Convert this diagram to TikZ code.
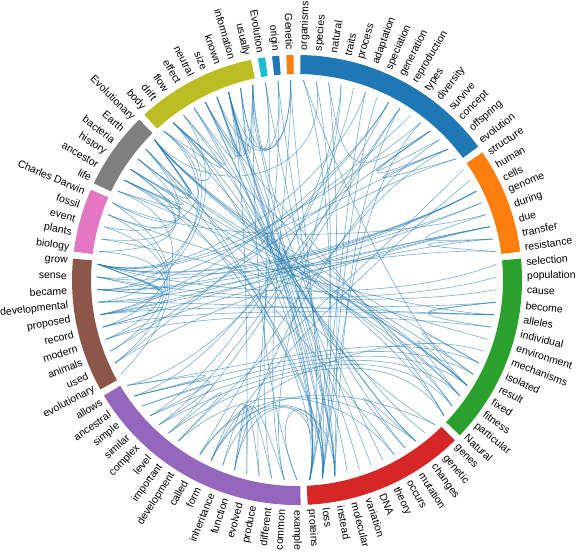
\documentclass[tikz,border=0pt]{standalone}
\usepackage{fontspec}
\setmainfont{Liberation Sans}
\usetikzlibrary{calc}
\definecolor{grBlue}  {HTML}{1F77B4}
\definecolor{grOrange}{HTML}{FF7F0E}
\definecolor{grGreen} {HTML}{2CA02C}
\definecolor{grRed}   {HTML}{D62728}
\definecolor{grPurple}{HTML}{9467BD}
\definecolor{grBrown} {HTML}{8C564B}
\definecolor{grPink}  {HTML}{E377C2}
\definecolor{grGrey}  {HTML}{7F7F7F}
\definecolor{grOlive} {HTML}{BCBD22}
\definecolor{grCyan}  {HTML}{17BECF}
\definecolor{linkBlue}{HTML}{1F77B4}

\begin{document}
\begin{tikzpicture}[
    word/.style={font=\fontsize{10.5}{12}\selectfont,inner sep=0pt,text=black},
    link/.style={draw=linkBlue,draw opacity=0.6,line width=0.6pt}
  ]
  \useasboundingbox (-297pt,-272pt) rectangle (280pt,280pt);
  \pgfmathsetmacro\stp{360/99}
  % Group arcs and their hubs
  \foreach \g/\c/\first/\last in {blue/grBlue/0/14, orange/grOrange/15/22,
      green/grGreen/23/36, red/grRed/37/48, purple/grPurple/49/65,
      brown/grBrown/66/75, pink/grPink/76/80, grey/grGrey/81/86,
      olive/grOlive/87/95, cyan/grCyan/96/96, blueB/grBlue/97/97,
      orangeB/grOrange/98/98} {
    \pgfmathsetmacro\sa{90-(\first*\stp+0.9)}
    \pgfmathsetmacro\ea{90-((\last+1)*\stp-0.9)}
    \pgfmathsetmacro\ma{90-(\first+\last+1)*\stp/2}
    \fill[\c] (\sa:206pt) arc[start angle=\sa,end angle=\ea,radius=206pt]
      -- (\ea:225pt) arc[start angle=\ea,end angle=\sa,radius=225pt] -- cycle;
    \coordinate (hub-\g) at (\ma:100pt);
  }
  % Words round the ring
  \foreach \w/\nm/\g [count=\i from 0] in {
      organisms/organisms/blue, species/species/blue, natural/natural/blue,
      traits/traits/blue, process/process/blue, adaptation/adaptation/blue,
      speciation/speciation/blue, generation/generation/blue,
      reproduction/reproduction/blue, types/types/blue, diversity/diversity/blue,
      survive/survive/blue, concept/concept/blue, offspring/offspring/blue,
      evolution/evolution/blue,
      structure/structure/orange, human/human/orange, cells/cells/orange,
      genome/genome/orange, during/during/orange, due/due/orange,
      transfer/transfer/orange, resistance/resistance/orange,
      selection/selection/green, population/population/green, cause/cause/green,
      become/become/green, alleles/alleles/green, individual/individual/green,
      environment/environment/green, mechanisms/mechanisms/green,
      isolated/isolated/green, result/result/green, fixed/fixed/green,
      fitness/fitness/green, particular/particular/green, Natural/Natural/green,
      genes/genes/red, genetic/genetic/red, changes/changes/red,
      mutation/mutation/red, occurs/occurs/red, theory/theory/red, DNA/DNA/red,
      variation/variation/red, molecular/molecular/red, instead/instead/red,
      loss/loss/red, proteins/proteins/red,
      example/example/purple, common/common/purple, different/different/purple,
      produce/produce/purple, evolved/evolved/purple, function/function/purple,
      inheritance/inheritance/purple, form/form/purple, called/called/purple,
      development/development/purple, important/important/purple,
      level/level/purple, complex/complex/purple, similar/similar/purple,
      simple/simple/purple, ancestral/ancestral/purple, allows/allows/purple,
      evolutionary/evolutionary/brown, used/used/brown, animals/animals/brown,
      modern/modern/brown, record/record/brown, proposed/proposed/brown,
      developmental/developmental/brown, became/became/brown, sense/sense/brown,
      grow/grow/brown,
      biology/biology/pink, plants/plants/pink, event/event/pink,
      fossil/fossil/pink, Charles Darwin/Darwin/pink,
      life/life/grey, ancestor/ancestor/grey, history/history/grey,
      bacteria/bacteria/grey, Earth/Earth/grey, Evolutionary/Evolutionary/grey,
      body/body/olive, drift/drift/olive, flow/flow/olive, effect/effect/olive,
      neutral/neutral/olive, size/size/olive, known/known/olive,
      information/information/olive, usually/usually/olive,
      Evolution/Evolution/cyan, origin/origin/blueB, Genetic/Genetic/orangeB} {
    \pgfmathsetmacro\ang{(\i+0.5)*\stp}
    \pgfmathsetmacro\th{90-\ang}
    \coordinate (\nm) at (\th:200pt);
    \coordinate (\nm-h) at (hub-\g);
    \ifdim\ang pt<180pt
      \node[word,anchor=west,rotate=\th] (t-\nm) at (\th:230pt) {\w};
    \else
      \node[word,anchor=east,rotate=\th+180] (t-\nm) at (\th:230pt) {\w};
    \fi
  }
  % Bundled links
  \foreach \a/\b in {
      organisms/loss, organisms/fixed, species/proteins, species/Evolutionary,
      natural/instead, natural/survive, traits/similar, traits/common,
      process/ancestral, adaptation/grow, adaptation/proteins, speciation/loss,
      generation/complex, generation/proposed, generation/used,
      reproduction/level, reproduction/allows, reproduction/instead,
      types/became, diversity/grow, diversity/loss, survive/offspring,
      survive/concept, survive/animals, concept/function, offspring/evolution,
      offspring/called, offspring/grow, evolution/proposed,
      structure/important, human/form, cells/grow, cells/became, cells/proposed,
      cells/sense, genome/record, genome/grow, during/Darwin, due/used,
      due/developmental, due/became, due/modern, transfer/proposed,
      transfer/resistance, resistance/grow, during/transfer,
      selection/grow, population/became, cause/sense, become/alleles,
      become/individual, become/proposed, alleles/developmental, alleles/record,
      alleles/fossil, individual/modern, environment/plants, mechanisms/called,
      isolated/Evolutionary, result/bacteria, fixed/ancestor, fixed/Evolutionary,
      fixed/history, fixed/fitness, fitness/life, fitness/Evolutionary,
      particular/drift, particular/bacteria, Natural/neutral,
      Natural/Evolutionary, result/isolated,
      genes/Earth, genetic/body, changes/drift, changes/flow, changes/mutation,
      occurs/ancestor, mutation/effect, theory/usually, DNA/known,
      variation/size, molecular/information, instead/known, instead/neutral,
      instead/usually, instead/Evolution, loss/origin, loss/known, loss/Earth,
      loss/history, loss/neutral, proteins/Genetic, proteins/known,
      proteins/size, proteins/effect, proteins/drift, proteins/Evolutionary,
      example/loss, function/evolved, function/proteins, inheritance/loss,
      form/instead, form/genes, called/changes, important/occurs,
      level/Natural, complex/particular, similar/fitness, simple/fixed,
      ancestral/result, allows/isolated, common/Genetic, produce/origin,
      different/Evolution, evolved/known, example/usually, function/common,
      inheritance/different, level/important, complex/simple,
      similar/ancestral, ancestral/allows, form/produce,
      used/fossil, animals/event, modern/biology, grow/sense, grow/became,
      grow/developmental, proposed/record, became/body, sense/drift,
      record/life, developmental/flow, evolutionary/Darwin,
      biology/history, plants/Earth, event/body, fossil/ancestor,
      Darwin/bacteria,
      life/ancestor, ancestor/history, bacteria/Evolutionary,
      Earth/Evolutionary, history/Evolutionary, Evolutionary/drift,
      body/drift, drift/flow, neutral/known, size/known, known/information,
      information/usually, effect/size, neutral/usually,
      Evolution/usually, origin/information, Genetic/size, Genetic/known}
    \draw[link] (\a) .. controls ($0.85*(\a-h)+0.1125*(\a)+0.0375*(\b)$)
      and ($0.85*(\b-h)+0.0375*(\a)+0.1125*(\b)$) .. (\b);
\end{tikzpicture}
\end{document}
